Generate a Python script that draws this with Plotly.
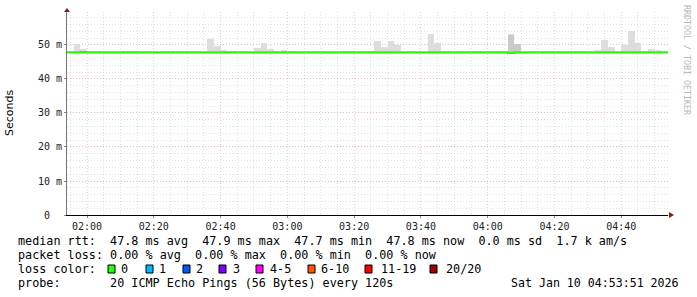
import pandas as pd
import plotly.graph_objects as go

# ---------------- data ----------------
day = "2026-01-10 "
x_start = "01:54"
x_end = "04:54"

median_start = "01:54"
median_rtt_ms = [
    47.8, 47.8, 47.9, 47.8, 47.8, 47.8, 47.8, 47.8, 47.8, 47.8,
    47.8, 47.8, 47.8, 47.8, 47.8, 47.8, 47.8, 47.8, 47.8, 47.8,
    47.8, 47.8, 47.8, 47.8, 47.8, 47.8, 47.8, 47.8, 47.8, 47.8,
    47.8, 47.8, 47.8, 47.8, 47.8, 47.8, 47.8, 47.8, 47.8, 47.8,
    47.8, 47.8, 47.8, 47.8, 47.8, 47.8, 47.8, 47.8, 47.8, 47.8,
    47.8, 47.8, 47.8, 47.8, 47.8, 47.8, 47.8, 47.8, 47.8, 47.8,
    47.8, 47.8, 47.8, 47.8, 47.8, 47.8, 47.7, 47.8, 47.8, 47.8,
    47.8, 47.8, 47.8, 47.8, 47.8, 47.8, 47.8, 47.8, 47.8, 47.8,
    47.8, 47.8, 47.8, 47.8, 47.8, 47.8, 47.8, 47.8, 47.8, 47.8,
]

smoke_start = ["01:56", "01:58", "02:00", "02:02", "02:12", "02:24", "02:28", "02:30",
               "02:36", "02:38", "02:40", "02:42", "02:44", "02:50", "02:52", "02:54",
               "02:58", "03:00", "03:18", "03:24", "03:26", "03:28", "03:30", "03:32",
               "03:42", "03:44", "03:56", "04:02", "04:04", "04:06", "04:08", "04:32",
               "04:34", "04:36", "04:40", "04:42", "04:44", "04:48", "04:50"]
smoke_top_ms = [50.4, 48.8, 48.3, 48.3, 48.2, 48.2, 48.2, 48.2,
                51.8, 49.8, 48.5, 48.2, 48.2, 49.1, 50.6, 48.8,
                48.5, 48.2, 48.2, 48.3, 51.2, 49.5, 51.2, 49.9,
                53.2, 50.6, 48.2, 48.2, 48.2, 53.2, 50.3, 48.5,
                51.5, 49.4, 50.1, 54.1, 50.5, 48.8, 48.5]
smoke_base_ms = 47.5

dense_start = ["04:06", "04:08"]
dense_top_ms = [52.8, 50.3]

y_tickvals = [0, 10, 20, 30, 40, 50]
y_ticktext = ["0\u00a0\u00a0", "10 m", "20 m", "30 m", "40 m", "50 m"]

legend_labels = ["0", "1", "2", "3", "4-5", "6-10", "11-19", "20/20"]
legend_colors = ["#26ff00", "#00b8ff", "#0059ff", "#7e00ff", "#ff00ff", "#ff5500", "#ff0000", "#a10000"]

line_rtt = "median rtt:  47.8 ms avg  47.9 ms max  47.7 ms min  47.8 ms now  0.0 ms sd  1.7 k am/s"
line_loss = "packet loss: 0.00 % avg  0.00 % max  0.00 % min  0.00 % now"
line_probe = "probe:       20 ICMP Echo Pings (56 Bytes) every 120s"
stamp = "Sat Jan 10 04:53:51 2026"

# ---------------- build ----------------
STEP = pd.Timedelta(minutes=2)
med_t = pd.date_range(day + median_start, periods=len(median_rtt_ms), freq="2min")
med_x = list(med_t) + [med_t[-1] + STEP]
med_y = list(median_rtt_ms) + [median_rtt_ms[-1]]

s_x = [pd.Timestamp(day + s) + STEP / 2 for s in smoke_start]
d_x = [pd.Timestamp(day + s) + STEP / 2 for s in dense_start]

W, H = 697, 297
L, R, T, B = 67, 29, 12, 82
PW, PH = W - L - R, H - T - B


def pp(xp, yp):
    return (xp - L) / PW, (H - B - yp) / PH


fig = go.Figure()
fig.add_trace(go.Bar(x=s_x, y=[t - smoke_base_ms for t in smoke_top_ms], base=smoke_base_ms,
                     width=120000, marker=dict(color="#dddddd", line=dict(width=0)),
                     showlegend=False, hoverinfo="skip"))
fig.add_trace(go.Bar(x=d_x, y=[t - smoke_base_ms for t in dense_top_ms], base=smoke_base_ms,
                     width=120000, marker=dict(color="#cacaca", line=dict(width=0)),
                     showlegend=False, hoverinfo="skip"))
fig.add_trace(go.Scatter(x=med_x, y=med_y, mode="lines", line=dict(color="#26ff00", width=2.2, shape="hv"),
                         showlegend=False, hoverinfo="skip"))

mono = "DejaVu Sans Mono"
MAJ = "rgba(235,140,140,0.45)"
MIN = "rgba(170,170,170,0.35)"
fig.update_layout(
    width=W, height=H, margin=dict(l=L, r=R, t=T, b=B),
    paper_bgcolor="white", plot_bgcolor="white",
    barmode="overlay", bargap=0,
    font=dict(family=mono, size=10, color="#222"),
    xaxis=dict(type="date", range=[day + x_start, day + x_end],
               tick0=day + "02:00", dtick=1200000, tickformat="%H:%M",
               showgrid=True, gridcolor=MAJ, griddash="1px,2px", gridwidth=1,
               minor=dict(dtick=300000, tick0=day + "02:00", showgrid=True,
                          gridcolor=MIN, griddash="1px,2px", gridwidth=1),
               showline=True, linecolor="#000", linewidth=1,
               ticks="outside", ticklen=2, tickcolor="#888",
               tickfont=dict(family=mono, size=10, color="#222"), zeroline=False),
    yaxis=dict(range=[0, 59.7], tickvals=y_tickvals, ticktext=y_ticktext,
               showgrid=True, gridcolor=MAJ, griddash="1px,2px", gridwidth=1,
               minor=dict(dtick=2, tick0=0, showgrid=True,
                          gridcolor=MIN, griddash="1px,2px", gridwidth=1),
               showline=True, linecolor="#777", linewidth=1,
               ticks="outside", ticklen=2, tickcolor="#888",
               tickfont=dict(family=mono, size=10, color="#222"), zeroline=False),
)

# axis arrows
x0, y0 = pp(67, 8)
x1, y1 = pp(64, 12)
x2, y2 = pp(70, 12)
fig.add_shape(type="path", xref="paper", yref="paper",
              path=f"M {x0} {y0} L {x1} {y1} L {x2} {y2} Z", fillcolor="#8b1a1a", line=dict(width=0))
a0, b0 = pp(674, 215)
a1, b1 = pp(669, 212)
a2, b2 = pp(669, 218)
fig.add_shape(type="path", xref="paper", yref="paper",
              path=f"M {a0} {b0} L {a1} {b1} L {a2} {b2} Z", fillcolor="#8b1a1a", line=dict(width=0))

ann = []


def text(xp, yp, s, size=11.78, color="#000", xanchor="left", family=mono, angle=0):
    px_, py_ = pp(xp, yp)
    ann.append(dict(x=px_, y=py_, xref="paper", yref="paper", text=s, showarrow=False,
                    xanchor=xanchor, yanchor="middle", textangle=angle,
                    font=dict(family=family, size=size, color=color)))


text(16, 241, line_rtt.replace(" ", "\u00a0"))
text(16, 255, line_loss.replace(" ", "\u00a0"))
text(16, 269, "loss\u00a0color:")
text(16, 283, line_probe.replace(" ", "\u00a0"))
text(681, 283, stamp.replace(" ", "\u00a0"), xanchor="right", size=11.6)
text(10, 113, "Seconds", size=11, family="DejaVu Sans", angle=-90, xanchor="center")
text(687, 60, "RRDTOOL\u00a0/\u00a0TOBI\u00a0OETIKER", size=8.3, color="#b8b8b8", xanchor="center", angle=90)

sw_x = [108, 146, 183, 219, 256, 308, 365, 430]
lab_x = [119, 157, 194, 231, 268, 319, 379, 444]
for sx, lx, lab, col in zip(sw_x, lab_x, legend_labels, legend_colors):
    ax0, ay0 = pp(sx, 273)
    ax1, ay1 = pp(sx + 7, 265)
    fig.add_shape(type="rect", xref="paper", yref="paper", x0=ax0, y0=ay0, x1=ax1, y1=ay1,
                  fillcolor=col, line=dict(color="#000", width=1))
    text(lx, 269, lab)

fig.update_layout(annotations=ann)
fig.write_html("out.html")
